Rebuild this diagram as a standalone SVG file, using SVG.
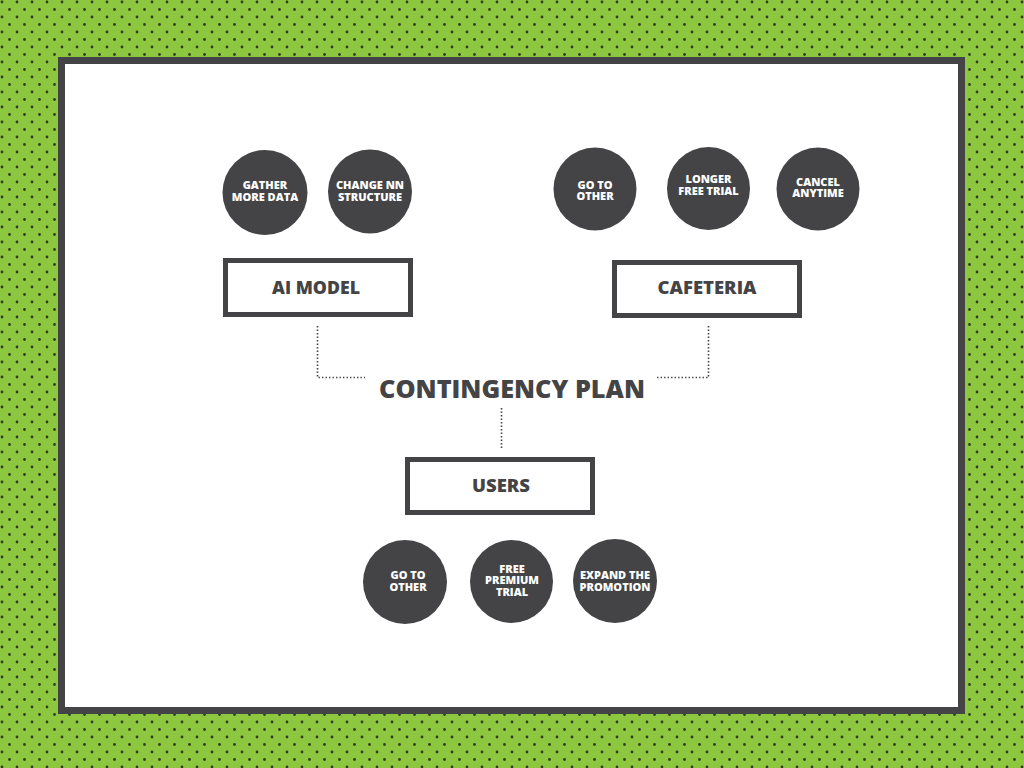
<svg xmlns="http://www.w3.org/2000/svg" width="1024" height="768" viewBox="0 0 1024 768">
<defs>
<pattern id="dots" x="0" y="0" width="15" height="15" patternUnits="userSpaceOnUse">
<rect width="15" height="15" fill="#8dc63f"/>
<circle cx="2" cy="2" r="1.4" fill="#2f3d22"/>
<circle cx="9.5" cy="9.5" r="1.4" fill="#2f3d22"/>
</pattern>
<style>
.circ{fill:#444446}
.ct{font-family:"Open Sans","Liberation Sans",sans-serif;font-weight:800;font-size:11px;fill:#ffffff;text-anchor:middle}
.box{fill:#ffffff;stroke:#444446;stroke-width:5}
.bt{font-family:"Open Sans","Liberation Sans",sans-serif;font-weight:800;font-size:18px;fill:#444446;text-anchor:middle}
.title{font-family:"Open Sans","Liberation Sans",sans-serif;font-weight:800;font-size:25px;fill:#444446;text-anchor:middle}
.dot{fill:none;stroke:#444446;stroke-width:1.6;stroke-dasharray:1.4 2.1}
</style>
</defs>
<rect width="1024" height="768" fill="url(#dots)"/>
<rect x="61.5" y="60.5" width="900" height="650" fill="#ffffff" stroke="#444446" stroke-width="7"/>

<g id="connectors">
<path class="dot" d="M317.5 326 V377.5 H365"/>
<path class="dot" d="M708.5 326 V377.5 H657"/>
<path class="dot" d="M501.5 408 V449"/>
</g>

<g id="title"><text class="title" x="512" y="398" textLength="266" lengthAdjust="spacingAndGlyphs">CONTINGENCY PLAN</text></g>

<g id="ai-model"><rect class="box" x="225.5" y="260.5" width="185" height="54"/><text class="bt" x="316" y="294" textLength="88" lengthAdjust="spacingAndGlyphs">AI MODEL</text></g>
<g id="cafeteria"><rect class="box" x="614.5" y="262.5" width="185" height="53"/><text class="bt" x="707" y="294" textLength="99" lengthAdjust="spacingAndGlyphs">CAFETERIA</text></g>
<g id="users"><rect class="box" x="407.5" y="459.5" width="185" height="53"/><text class="bt" x="501" y="492" textLength="58" lengthAdjust="spacingAndGlyphs">USERS</text></g>

<g id="gather"><circle class="circ" cx="265" cy="192.5" r="42.5"/><text class="ct" x="265" y="189"><tspan x="265">GATHER</tspan><tspan x="265" dy="11.5">MORE DATA</tspan></text></g>
<g id="change-nn"><circle class="circ" cx="370" cy="191.5" r="42"/><text class="ct" x="370" y="189"><tspan x="370">CHANGE NN</tspan><tspan x="370" dy="11.5">STRUCTURE</tspan></text></g>

<g id="go-other-1"><circle class="circ" cx="595" cy="189" r="41.5"/><text class="ct" x="595" y="189"><tspan x="595">GO TO</tspan><tspan x="595" dy="10.5">OTHER</tspan></text></g>
<g id="longer-trial"><circle class="circ" cx="708.5" cy="188.5" r="41.5"/><text class="ct" x="708.5" y="183"><tspan x="708.5">LONGER</tspan><tspan x="708.5" dy="12">FREE TRIAL</tspan></text></g>
<g id="cancel"><circle class="circ" cx="818" cy="189" r="41.5"/><text class="ct" x="818" y="185.5"><tspan x="818">CANCEL</tspan><tspan x="818" dy="11.5">ANYTIME</tspan></text></g>

<g id="go-other-2"><circle class="circ" cx="405" cy="582" r="42"/><text class="ct" x="408" y="579"><tspan x="408">GO TO</tspan><tspan x="408" dy="11.5">OTHER</tspan></text></g>
<g id="free-premium"><circle class="circ" cx="511.5" cy="581.5" r="41.5"/><text class="ct" x="512" y="572.5"><tspan x="512">FREE</tspan><tspan x="512" dy="11.5">PREMIUM</tspan><tspan x="512" dy="12">TRIAL</tspan></text></g>
<g id="expand"><circle class="circ" cx="615" cy="581" r="42"/><text class="ct" x="615" y="579"><tspan x="615">EXPAND THE</tspan><tspan x="615" dy="11.5">PROMOTION</tspan></text></g>
</svg>
